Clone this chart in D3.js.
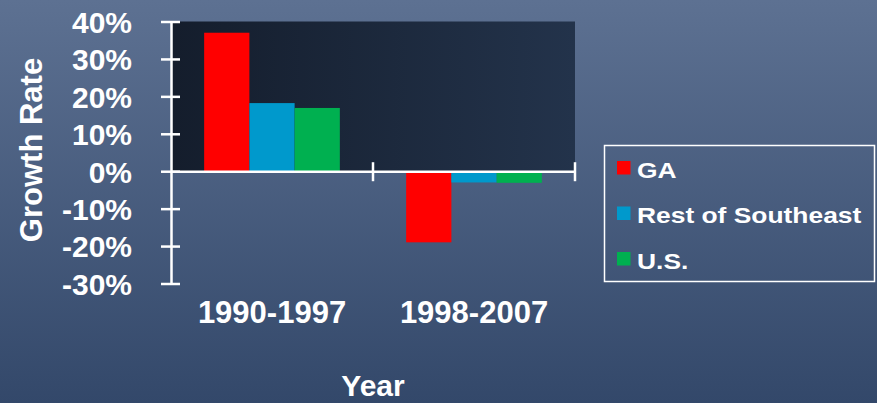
<!DOCTYPE html>
<html>
<head>
<meta charset="utf-8">
<script src="https://cdn.jsdelivr.net/npm/d3@7/dist/d3.min.js"></script>
<style>
  html, body { margin: 0; padding: 0; background: #44587a; }
  svg { display: block; }
  text { font-family: "Liberation Sans", Arial, sans-serif; font-weight: bold; fill: #ffffff; }
</style>
</head>
<body>
<svg id="chart" width="877" height="403"></svg>
<script>
// Growth rate by period, three regions
const categories = ["1990-1997", "1998-2007"];
const seriesNames = ["GA", "Rest of Southeast", "U.S."];
const gaValues = [37.0, -19.0];
const restValues = [18.2, -3.0];
const usValues = [16.9, -3.1];
const yTicks = [-30, -20, -10, 0, 10, 20, 30, 40];
const seriesColors = ["#ff0000", "#0099cc", "#00b050"];

const seriesValues = [gaValues, restValues, usValues];

const svg = d3.select("#chart");
const W = 877, H = 403;

// Background gradients
const defs = svg.append("defs");
const bg = defs.append("linearGradient").attr("id", "bg")
  .attr("x1", 0).attr("y1", 0).attr("x2", 0).attr("y2", 1);
bg.append("stop").attr("offset", 0).attr("stop-color", "#5d7192");
bg.append("stop").attr("offset", 1).attr("stop-color", "#33486a");

const wall = defs.append("linearGradient").attr("id", "wall")
  .attr("x1", 0).attr("y1", 0).attr("x2", 1).attr("y2", 0);
wall.append("stop").attr("offset", 0).attr("stop-color", "#141d2c");
wall.append("stop").attr("offset", 1).attr("stop-color", "#23334b");

svg.append("rect").attr("width", W).attr("height", H).attr("fill", "url(#bg)");

// Scales
const x0 = d3.scaleBand().domain(categories).range([171, 575]).paddingInner(0).paddingOuter(0);
const x1 = d3.scaleBand().domain(seriesNames).range([0, x0.bandwidth()]).paddingInner(0).paddingOuter(0.733);
const y = d3.scaleLinear().domain([-30, 40]).range([283.5, 21.5]);

// Plot wall above the zero line
svg.append("rect")
  .attr("x", x0.range()[0]).attr("y", y(40))
  .attr("width", x0.range()[1] - x0.range()[0])
  .attr("height", y(0) - y(40))
  .attr("fill", "url(#wall)");

// Bars
const groups = svg.append("g").selectAll("g")
  .data(categories)
  .join("g")
  .attr("transform", d => `translate(${x0(d)},0)`);

groups.selectAll("rect")
  .data((c, ci) => seriesNames.map((s, si) => ({ s, si, v: seriesValues[si][ci] })))
  .join("rect")
  .attr("x", d => x1(d.s))
  .attr("width", x1.bandwidth())
  .attr("y", d => y(Math.max(0, d.v)))
  .attr("height", d => Math.abs(y(d.v) - y(0)))
  .attr("fill", d => seriesColors[d.si]);

// Y axis
const yAxis = svg.append("g")
  .attr("transform", `translate(${x0.range()[0]},0)`)
  .call(d3.axisLeft(y).tickValues(yTicks).tickFormat(d => d + "%").tickSizeInner(10).tickSizeOuter(0).tickPadding(29));
yAxis.select(".domain").attr("stroke", "#fff").attr("stroke-width", 2.5);
yAxis.selectAll(".tick line").attr("stroke", "#fff").attr("stroke-width", 2.5).attr("x1", -10).attr("x2", 9);
yAxis.selectAll(".tick text").attr("font-size", 30).attr("fill", "#fff")
  .attr("font-family", "'Liberation Sans', Arial, sans-serif").attr("font-weight", "bold")
  .attr("dy", "0.36em");

// X axis on the zero line
const xAxis = svg.append("g")
  .attr("transform", `translate(0,${y(0)})`)
  .call(d3.axisBottom(x0).tickSize(0).tickSizeOuter(0).tickPadding(152));
xAxis.select(".domain").attr("stroke", "#fff").attr("stroke-width", 2.5);
xAxis.selectAll(".tick text").attr("font-size", 31).attr("fill", "#fff")
  .attr("font-family", "'Liberation Sans', Arial, sans-serif").attr("font-weight", "bold")
  .attr("dy", 0);

// Category separator ticks
const sepX = categories.map(c => x0(c) + x0.bandwidth());
xAxis.selectAll(".sep")
  .data(sepX)
  .join("line")
  .attr("class", "sep")
  .attr("x1", d => d).attr("x2", d => d)
  .attr("y1", -9).attr("y2", 10)
  .attr("stroke", "#fff").attr("stroke-width", 2.5);

// Axis titles
svg.append("text")
  .attr("transform", "translate(42,150) rotate(-90)")
  .attr("text-anchor", "middle")
  .attr("font-size", 31)
  .text("Growth Rate");

svg.append("text")
  .attr("x", 373).attr("y", 396)
  .attr("text-anchor", "middle")
  .attr("font-size", 30)
  .text("Year");

// Legend
const legend = svg.append("g");
legend.append("rect")
  .attr("x", 604.5).attr("y", 145.5).attr("width", 270).attr("height", 136)
  .attr("fill", "none").attr("stroke", "#fff").attr("stroke-width", 1.5);

const items = legend.selectAll("g.item")
  .data(seriesNames)
  .join("g")
  .attr("class", "item")
  .attr("transform", (d, i) => `translate(617,${161 + i * 45.5})`);

items.append("rect")
  .attr("width", 13.5).attr("height", 13.5)
  .attr("fill", (d, i) => seriesColors[i]);

items.append("text")
  .attr("transform", "translate(20,16.5) scale(1.2,1)")
  .attr("font-size", 22)
  .text(d => d);
</script>
</body>
</html>
